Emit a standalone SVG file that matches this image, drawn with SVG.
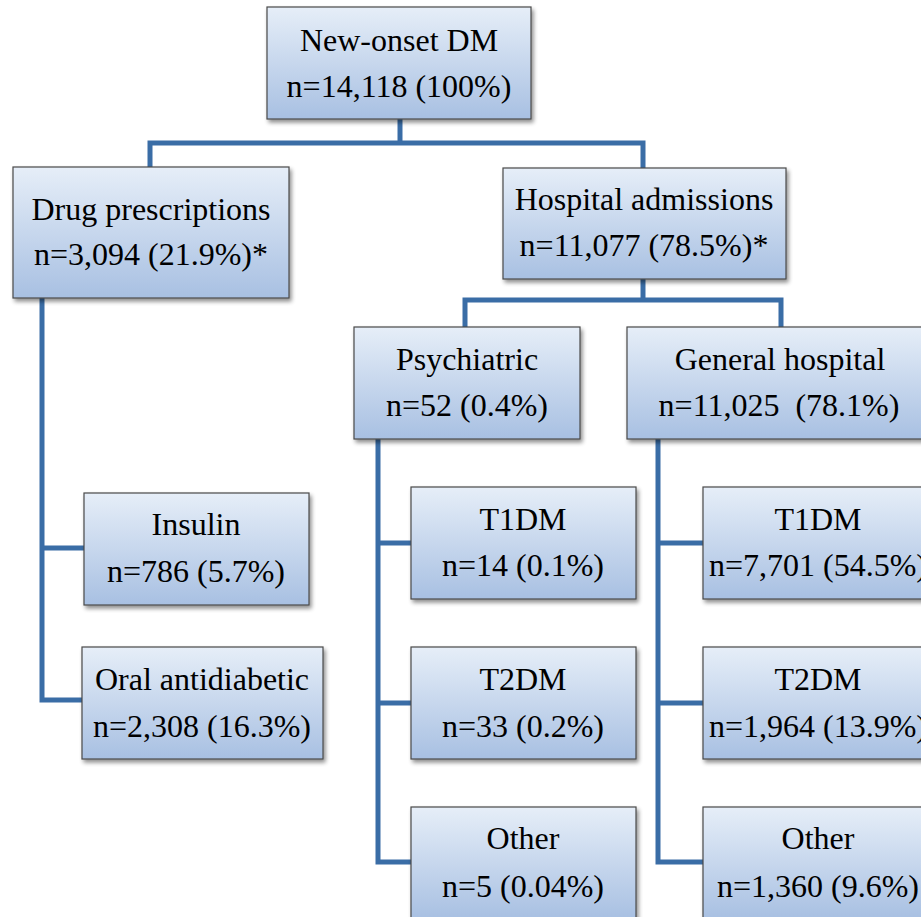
<svg xmlns="http://www.w3.org/2000/svg" width="921" height="917" viewBox="0 0 921 917">
<defs>
<linearGradient id="g" x1="0" y1="0" x2="0" y2="1">
<stop offset="0" stop-color="#e6eef8"/>
<stop offset="1" stop-color="#a8c0e2"/>
</linearGradient>
<filter id="sh" x="-10%" y="-10%" width="130%" height="130%">
<feGaussianBlur in="SourceAlpha" stdDeviation="2"/>
<feOffset dx="2" dy="3" result="b"/>
<feComponentTransfer><feFuncA type="linear" slope="0.45"/></feComponentTransfer>
<feMerge><feMergeNode/><feMergeNode in="SourceGraphic"/></feMerge>
</filter>
</defs>
<style>
.box{fill:url(#g);stroke:#4a4a4a;stroke-width:1.2;filter:url(#sh)}
.t{font-family:"Liberation Serif","Times New Roman",serif;font-size:32px;fill:#000;text-anchor:middle;white-space:pre}
.c{fill:none;stroke:#3a6da6;stroke-width:5;stroke-linejoin:miter}
</style>
<rect width="921" height="917" fill="#fff"/>
<g id="connectors">
<polyline class="c" points="400,119 400,143"/>
<polyline class="c" points="150,168 150,143 643,143 643,168"/>
<polyline class="c" points="643,279 643,300"/>
<polyline class="c" points="465,327 465,300 781,300 781,327"/>
<polyline class="c" points="42,298 42,700 82,700"/>
<polyline class="c" points="42,548 84,548"/>
<polyline class="c" points="378,439 378,862 411,862"/>
<polyline class="c" points="378,543 411,543"/>
<polyline class="c" points="378,703 411,703"/>
<polyline class="c" points="658,439 658,862 703,862"/>
<polyline class="c" points="658,543 703,543"/>
<polyline class="c" points="658,703 703,703"/>
</g>
<g id="n-root"><rect class="box" x="267" y="7" width="264" height="112"/>
<text class="t" x="399" y="51">New-onset DM</text><text class="t" x="399" y="97">n=14,118 (100%)</text></g>
<g id="n-drug"><rect class="box" x="13" y="167" width="276" height="131"/>
<text class="t" x="151" y="220">Drug prescriptions</text><text class="t" x="151" y="265">n=3,094 (21.9%)*</text></g>
<g id="n-hosp"><rect class="box" x="503" y="168" width="283" height="111"/>
<text class="t" x="644" y="210">Hospital admissions</text><text class="t" x="644" y="256">n=11,077 (78.5%)*</text></g>
<g id="n-psych"><rect class="box" x="354" y="327" width="226" height="112"/>
<text class="t" x="467" y="370">Psychiatric</text><text class="t" x="467" y="416">n=52 (0.4%)</text></g>
<g id="n-gen"><rect class="box" x="627" y="327" width="306" height="112"/>
<text class="t" x="780" y="370">General hospital</text><text class="t" x="779" y="416" xml:space="preserve">n=11,025  (78.1%)</text></g>
<g id="n-insulin"><rect class="box" x="84" y="493" width="225" height="112"/>
<text class="t" x="196" y="535">Insulin</text><text class="t" x="196" y="582">n=786 (5.7%)</text></g>
<g id="n-oral"><rect class="box" x="82" y="647" width="241" height="112"/>
<text class="t" x="202" y="690">Oral antidiabetic</text><text class="t" x="202" y="737">n=2,308 (16.3%)</text></g>
<g id="n-p-t1"><rect class="box" x="411" y="487" width="225" height="112"/>
<text class="t" x="523" y="530">T1DM</text><text class="t" x="523" y="576">n=14 (0.1%)</text></g>
<g id="n-p-t2"><rect class="box" x="411" y="647" width="225" height="112"/>
<text class="t" x="523" y="690">T2DM</text><text class="t" x="523" y="737">n=33 (0.2%)</text></g>
<g id="n-p-other"><rect class="box" x="411" y="807" width="225" height="112"/>
<text class="t" x="523" y="849">Other</text><text class="t" x="523" y="897">n=5 (0.04%)</text></g>
<g id="n-g-t1"><rect class="box" x="703" y="487" width="230" height="112"/>
<text class="t" x="818" y="530">T1DM</text><text class="t" x="818" y="576">n=7,701 (54.5%)</text></g>
<g id="n-g-t2"><rect class="box" x="703" y="647" width="230" height="112"/>
<text class="t" x="818" y="690">T2DM</text><text class="t" x="818" y="737">n=1,964 (13.9%)</text></g>
<g id="n-g-other"><rect class="box" x="703" y="807" width="230" height="112"/>
<text class="t" x="818" y="849">Other</text><text class="t" x="818" y="897">n=1,360 (9.6%)</text></g>
</svg>
